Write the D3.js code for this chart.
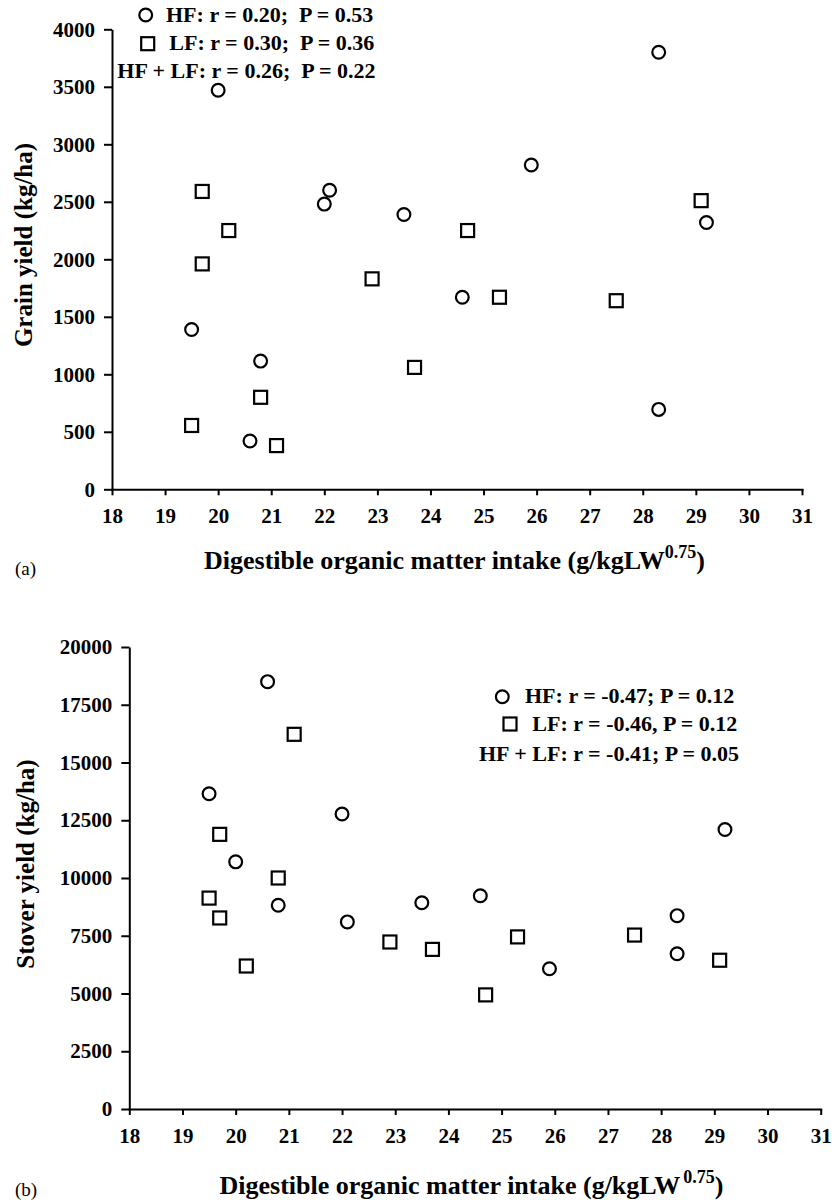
<!DOCTYPE html>
<html>
<head>
<meta charset="utf-8">
<script src="https://cdn.jsdelivr.net/npm/d3@7"></script>
<style>
  html, body { margin: 0; padding: 0; background: #fff; }
  svg { display: block; }
  text { font-family: "Liberation Serif", "Times New Roman", serif; fill: #000; }
</style>
</head>
<body>
<svg id="chart" width="832" height="1200"></svg>
<script>
// Digestible organic matter intake (g/kg LW^0.75) for each animal group
const intakeHF = [19.5, 20.0, 20.6, 20.8, 22.0, 22.1, 23.5, 24.6, 25.9, 28.3, 28.3, 29.2];
const intakeLF = [19.5, 19.7, 19.7, 20.2, 20.8, 21.1, 22.9, 23.7, 24.7, 25.3, 27.5, 29.1];

// Grain yield (kg/ha), same order as the intake arrays
const grainHF = [1390, 3470, 420, 1115, 2480, 2600, 2390, 1670, 2820, 3800, 695, 2320];
const grainLF = [555, 2590, 1960, 2250, 800, 380, 1830, 1060, 2250, 1670, 1640, 2510];

// Stover yield (kg/ha), same order as the intake arrays
const stoverHF = [13650, 10700, 18500, 8820, 12770, 8100, 8930, 9230, 6070, 8370, 6720, 12100];
const stoverLF = [9130, 11890, 8270, 6190, 10000, 16220, 7230, 6910, 4940, 7450, 7530, 6440];

// Axis ticks
const xTicks = [18, 19, 20, 21, 22, 23, 24, 25, 26, 27, 28, 29, 30, 31];
const grainTicks = [0, 500, 1000, 1500, 2000, 2500, 3000, 3500, 4000];
const stoverTicks = [0, 2500, 5000, 7500, 10000, 12500, 15000, 17500, 20000];

// Correlation legends
const legendA = ["HF: r = 0.20;  P = 0.53", "LF: r = 0.30;  P = 0.36", "HF + LF: r = 0.26;  P = 0.22"];
const legendB = ["HF: r = -0.47; P = 0.12", "LF: r = -0.46, P = 0.12", "HF + LF: r = -0.41; P = 0.05"];

const svg = d3.select("#chart");
svg.append("rect").attr("width", 832).attr("height", 1200).attr("fill", "#fff");

const R = 6.4, SQ = 13, SW = 2.2;

function circleMark(g, x, y) {
  g.append("circle").attr("cx", x).attr("cy", y).attr("r", R)
    .attr("fill", "#fff").attr("stroke", "#000").attr("stroke-width", SW);
}
function squareMark(g, x, y) {
  g.append("rect").attr("x", x - SQ / 2).attr("y", y - SQ / 2)
    .attr("width", SQ).attr("height", SQ)
    .attr("fill", "#fff").attr("stroke", "#000").attr("stroke-width", SW);
}

function panel(opt) {
  const x = d3.scaleLinear().domain([18, 31]).range(opt.xRange);
  const y = d3.scaleLinear().domain(opt.yDomain).range(opt.yRange);
  const g = svg.append("g");

  // x axis
  const gx = g.append("g")
    .attr("transform", `translate(0,${opt.yRange[0]})`)
    .call(d3.axisBottom(x).tickValues(xTicks).tickFormat(d3.format("d"))
      .tickSize(6).tickSizeOuter(0).tickPadding(13));
  // y axis
  const gy = g.append("g")
    .attr("transform", `translate(${opt.xRange[0]},0)`)
    .call(d3.axisLeft(y).tickValues(opt.yTicks).tickFormat(d3.format("d"))
      .tickSize(8).tickSizeOuter(0).tickPadding(9));

  [gx, gy].forEach(a => {
    a.select(".domain").attr("stroke", "#000").attr("stroke-width", 2);
    a.selectAll(".tick line").attr("stroke", "#000").attr("stroke-width", 2);
    a.selectAll(".tick text")
      .attr("font-family", "Liberation Serif, Times New Roman, serif")
      .attr("font-size", 21).attr("font-weight", "bold").attr("fill", "#000");
  });
  gx.select(".domain").attr("stroke-linecap", "square");

  // points
  const pts = g.append("g");
  opt.lf.forEach((v, i) => squareMark(pts, x(intakeLF[i]), y(v)));
  opt.hf.forEach((v, i) => circleMark(pts, x(intakeHF[i]), y(v)));

  // y axis title
  g.append("text")
    .attr("transform", `translate(${opt.yTitlePos[0]},${opt.yTitlePos[1]}) rotate(-90)`)
    .attr("text-anchor", "middle")
    .attr("font-size", 25).attr("font-weight", "bold")
    .text(opt.yTitle);

  // x axis title with superscript exponent
  const t = g.append("text")
    .attr("x", opt.xTitlePos[0]).attr("y", opt.xTitlePos[1])
    .attr("text-anchor", "middle")
    .attr("font-size", 26).attr("font-weight", "bold");
  t.append("tspan").text("Digestible organic matter intake (g/kgLW");
  t.append("tspan").attr("font-size", 18).attr("dy", -11).attr("dx", opt.supGap).text("0.75");
  t.append("tspan").attr("dy", 11).text(")");

  // panel letter
  g.append("text").attr("x", 15).attr("y", opt.letterY)
    .attr("font-size", 19).text(opt.letter);

  // legend
  const lg = g.append("g");
  const L = opt.legend;
  circleMark(lg, L.circle[0], L.circle[1]);
  squareMark(lg, L.square[0], L.square[1]);
  opt.legendText.forEach((s, i) => {
    lg.append("text")
      .attr("x", L.textX[i]).attr("y", L.textY[i])
      .attr("font-size", 22).attr("font-weight", "bold")
      .style("white-space", "pre")
      .text(s);
  });
}

// (a) grain yield
panel({
  xRange: [112, 802],
  yDomain: [0, 4000], yRange: [489.3, 29.3],
  yTicks: grainTicks,
  hf: grainHF, lf: grainLF,
  yTitle: "Grain yield (kg/ha)", yTitlePos: [32, 245],
  xTitlePos: [454.5, 569], supGap: 0,
  letter: "(a)", letterY: 575,
  legend: { circle: [145.7, 15], square: [147.7, 43.7],
            textX: [166, 169.3, 117.3], textY: [21.7, 50, 78] },
  legendText: legendA
});

// (b) stover yield
panel({
  xRange: [129.3, 820.7],
  yDomain: [0, 20000], yRange: [1109, 647],
  yTicks: stoverTicks,
  hf: stoverHF, lf: stoverLF,
  yTitle: "Stover yield (kg/ha)", yTitlePos: [34, 864],
  xTitlePos: [471.5, 1194], supGap: 3,
  letter: "(b)", letterY: 1196,
  legend: { circle: [502.3, 696.7], square: [510, 724],
            textX: [525, 532.3, 479], textY: [703, 731, 761] },
  legendText: legendB
});
</script>
</body>
</html>
